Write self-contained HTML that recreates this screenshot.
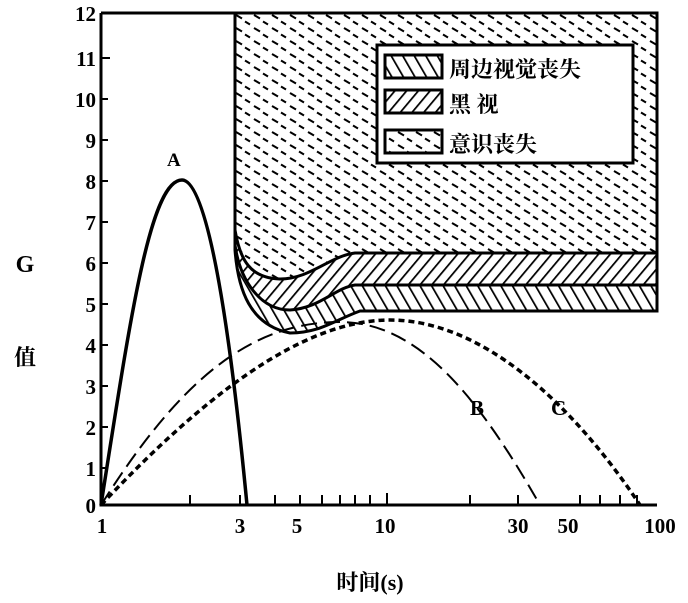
<!DOCTYPE html>
<html><head><meta charset="utf-8"><style>
body{margin:0;background:#fff}
svg{display:block}
text{font-family:"Liberation Serif","Noto Serif CJK SC",serif;font-weight:bold;fill:#000}
</style></head><body>
<svg width="688" height="603" viewBox="0 0 688 603" xmlns="http://www.w3.org/2000/svg">
<defs>
<pattern id="dash" width="18" height="13" patternUnits="userSpaceOnUse">
<rect width="18" height="13" fill="#fff"/>
<path d="M2 2 L8 5.5 M11 8.5 L16 11.5" stroke="#000" stroke-width="2"/>
</pattern>
<pattern id="fwd" width="9" height="9" patternUnits="userSpaceOnUse" patternTransform="rotate(40)">
<rect width="9" height="9" fill="#fff"/><line x1="0" y1="0" x2="0" y2="9" stroke="#000" stroke-width="3.5"/>
</pattern>
<pattern id="bwd" width="10" height="10" patternUnits="userSpaceOnUse" patternTransform="rotate(-30)">
<rect width="10" height="10" fill="#fff"/><line x1="0" y1="0" x2="0" y2="10" stroke="#000" stroke-width="3.5"/>
</pattern>
</defs>
<path d="M235 230 L235 250 C238 290 250 325 290 333 C320 333 335 320 360 311 L657 311 L657 13 L235 13 Z" fill="url(#bwd)" stroke="#000" stroke-width="3"/>
<path d="M235 230 L235 245 C240 280 260 310 290 310 C320 308 335 288 355 285 L657 285 L657 13 L235 13 Z" fill="url(#fwd)" stroke="#000" stroke-width="3"/>
<path d="M235 13 L235 230 C240 260 250 278 280 279 C310 279 330 256 355 253 L657 253 L657 13 Z" fill="url(#dash)" stroke="#000" stroke-width="3"/>
<rect x="377" y="45" width="256" height="118" fill="#fff" stroke="#000" stroke-width="3"/>
<rect x="385" y="55" width="57" height="23" fill="url(#bwd)" stroke="#000" stroke-width="3"/>
<rect x="385" y="90" width="57" height="23" fill="url(#fwd)" stroke="#000" stroke-width="3"/>
<rect x="385" y="130" width="57" height="23" fill="url(#dash)" stroke="#000" stroke-width="3"/>
<text x="449" y="77" font-size="22">周边视觉丧失</text>
<text x="449" y="112" font-size="22">黑 视</text>
<text x="449" y="152" font-size="22">意识丧失</text>
<path d="M101 13 L101 505 L657 505" fill="none" stroke="#000" stroke-width="3"/>
<line x1="101" y1="13" x2="235" y2="13" stroke="#000" stroke-width="3"/>
<g stroke="#000" stroke-width="2">
<line x1="101" y1="58" x2="110" y2="58"/><line x1="101" y1="99" x2="108" y2="99"/><line x1="101" y1="140" x2="108" y2="140"/><line x1="101" y1="181" x2="108" y2="181"/><line x1="101" y1="222" x2="108" y2="222"/><line x1="101" y1="263" x2="108" y2="263"/><line x1="101" y1="304" x2="108" y2="304"/><line x1="101" y1="345" x2="108" y2="345"/><line x1="101" y1="386" x2="108" y2="386"/><line x1="101" y1="427" x2="108" y2="427"/><line x1="101" y1="468" x2="108" y2="468"/>
<line x1="190" y1="505" x2="190" y2="495"/><line x1="240" y1="505" x2="240" y2="495"/><line x1="275" y1="505" x2="275" y2="495"/><line x1="300" y1="505" x2="300" y2="495"/><line x1="322" y1="505" x2="322" y2="495"/><line x1="340" y1="505" x2="340" y2="495"/><line x1="355" y1="505" x2="355" y2="495"/><line x1="370" y1="505" x2="370" y2="495"/><line x1="387" y1="505" x2="387" y2="493"/><line x1="470" y1="505" x2="470" y2="495"/><line x1="518" y1="505" x2="518" y2="495"/><line x1="580" y1="505" x2="580" y2="495"/><line x1="600" y1="505" x2="600" y2="495"/><line x1="620" y1="505" x2="620" y2="495"/><line x1="637" y1="505" x2="637" y2="495"/>
</g>
<g font-size="21" text-anchor="end">
<text x="96" y="21">12</text><text x="96" y="66">11</text><text x="96" y="107">10</text><text x="96" y="148">9</text><text x="96" y="189">8</text><text x="96" y="230">7</text><text x="96" y="271">6</text><text x="96" y="312">5</text><text x="96" y="353">4</text><text x="96" y="394">3</text><text x="96" y="435">2</text><text x="96" y="476">1</text><text x="96" y="513">0</text>
</g>
<g font-size="21" text-anchor="middle">
<text x="102" y="533">1</text><text x="240" y="533">3</text><text x="297" y="533">5</text><text x="385" y="533">10</text><text x="518" y="533">30</text><text x="568" y="533">50</text><text x="660" y="533">100</text>
</g>
<text x="25" y="272" font-size="24" text-anchor="middle">G</text>
<text x="25" y="365" font-size="22" text-anchor="middle">值</text>
<text x="370" y="590" font-size="22" text-anchor="middle">时间(s)</text>
<text x="167" y="166" font-size="19" font-weight="normal">A</text>
<text x="470" y="415" font-size="21" font-weight="normal">B</text>
<text x="551" y="415" font-size="21" font-weight="normal">C</text>
<path d="M101 505 C130 320 150 180 182 180 C212 180 235 380 247 505" fill="none" stroke="#000" stroke-width="3.5"/>
<path d="M101 505 C180 380 250 322 340 322 C420 322 480 400 540 505" fill="none" stroke="#000" stroke-width="2" stroke-dasharray="16,7"/>
<path d="M101 505 C200 400 300 320 390 320 C480 320 570 400 640 505" fill="none" stroke="#000" stroke-width="3.5" stroke-dasharray="6,4"/>
</svg>
</body></html>
